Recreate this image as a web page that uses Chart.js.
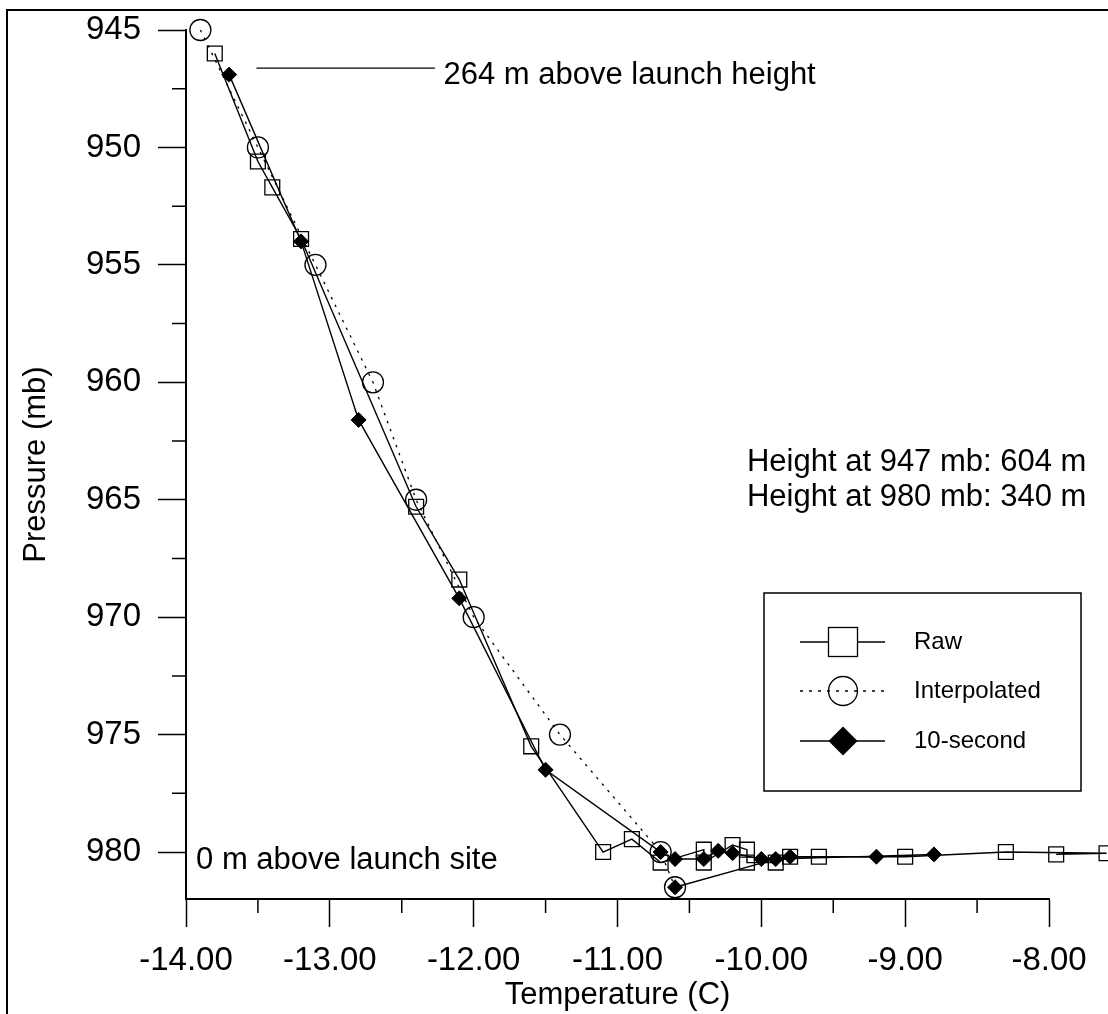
<!DOCTYPE html>
<html><head><meta charset="utf-8">
<style>html,body{margin:0;padding:0;background:#fff;overflow:hidden}#wrap{width:1108px;height:1014px}</style>
<script src="https://cdn.jsdelivr.net/npm/chart.js@4.4.1/dist/chart.umd.min.js"></script>
</head><body><div id="wrap"><canvas id="c" width="1108" height="1014"></canvas></div>
<script>
// ---- data ----
const rawT = [-13.8, -13.5, -13.4, -13.2, -12.4, -12.1, -11.6, -11.1, -10.9, -10.7, -10.4, -10.4, -10.2, -10.1, -10.1, -9.9, -9.8, -9.6, -9.0, -8.3, -7.6, -7.95];
const rawP = [946.0, 950.6, 951.7, 953.9, 965.3, 968.4, 975.5, 980.0, 979.45, 980.45, 979.9, 980.45, 979.7, 979.9, 980.45, 980.45, 980.2, 980.2, 980.2, 980.0, 980.05, 980.1];
const interpT = [-13.9, -13.5, -13.1, -12.7, -12.4, -12.0, -11.4, -10.7, -10.6];
const interpP = [945, 950, 955, 960, 965, 970, 975, 980, 981.5];
const tenT = [-13.7, -13.2, -12.8, -12.1, -11.5, -10.7, -10.6, -10.4, -10.3, -10.2, -10.0, -9.8, -9.2, -8.8, -9.9, -10.6];
const tenP = [946.9, 954.0, 961.6, 969.2, 976.5, 980.0, 980.3, 980.3, 979.95, 980.05, 980.3, 980.2, 980.2, 980.1, 980.3, 981.5];
const seriesNames = ['Raw', 'Interpolated', '10-second'];

const xMajor = [-14, -13, -12, -11, -10, -9, -8];
const xTickLabels = ['-14.00', '-13.00', '-12.00', '-11.00', '-10.00', '-9.00', '-8.00'];
const xMinor = [-13.5, -12.5, -11.5, -10.5, -9.5, -8.5];
const yMajor = [945, 950, 955, 960, 965, 970, 975, 980];
const yTickLabels = ['945', '950', '955', '960', '965', '970', '975', '980'];
const yMinor = [947.5, 952.5, 957.5, 962.5, 967.5, 972.5, 977.5];

const xTitle = 'Temperature (C)';
const yTitle = 'Pressure (mb)';
const notes = [
  {text: '264 m above launch height', x: -12.21, y: 946.95},
  {text: '0 m above launch site', x: -13.93, y: 980.35},
  {text: 'Height at 947 mb: 604 m', x: -10.1, y: 963.4},
  {text: 'Height at 980 mb: 340 m', x: -10.1, y: 964.9}
];
const leaderLine = {x1: -13.51, x2: -12.27, y: 946.62};

// ---- drawing ----
const FONT = "'Liberation Sans', Arial, Helvetica, sans-serif";
const pts = (xs, ys) => xs.map((x, i) => ({x: x, y: ys[i]}));

let savedArea = null;
const decor = {
  id: 'decor',
  beforeDraw(chart) {
    const c = chart.ctx;
    c.save();
    c.fillStyle = '#fff';
    c.fillRect(0, 0, chart.width, chart.height);
    c.strokeStyle = '#000';
    c.lineWidth = 2;
    c.strokeRect(7, 10, chart.width + 20, chart.height + 20);
    c.restore();
  },
  beforeDatasetsDraw(chart) {
    // let markers that run past the last tick (data beyond -8) still be drawn
    savedArea = chart.chartArea;
    chart.chartArea = Object.assign({}, savedArea, {right: chart.width, top: 0});
  },
  afterDatasetsDraw(chart) {
    if (savedArea) chart.chartArea = savedArea;
  },
  afterDraw(chart) {
    const c = chart.ctx, xs = chart.scales.x, ys = chart.scales.y, a = chart.chartArea;
    c.save();
    c.strokeStyle = '#000';
    c.lineWidth = 1.5;
    c.beginPath();
    xMinor.forEach(v => { const p = xs.getPixelForValue(v); c.moveTo(p, a.bottom); c.lineTo(p, a.bottom + 14); });
    yMinor.forEach(v => { const p = ys.getPixelForValue(v); c.moveTo(a.left, p); c.lineTo(a.left - 14, p); });
    c.stroke();
    c.lineWidth = 1.3;
    c.beginPath();
    c.moveTo(xs.getPixelForValue(leaderLine.x1), ys.getPixelForValue(leaderLine.y));
    c.lineTo(xs.getPixelForValue(leaderLine.x2), ys.getPixelForValue(leaderLine.y));
    c.stroke();
    c.fillStyle = '#000';
    c.font = '31px ' + FONT;
    c.textAlign = 'left';
    c.textBaseline = 'middle';
    notes.forEach(n => c.fillText(n.text, xs.getPixelForValue(n.x), ys.getPixelForValue(n.y)));
    // legend
    const L = {x: 764, y: 593, w: 317, h: 198, x1: 800, x2: 885, mx: 843, tx: 914, rows: [642, 691, 741]};
    c.lineWidth = 1.5;
    c.strokeRect(L.x, L.y, L.w, L.h);
    c.font = '24px ' + FONT;
    let y = L.rows[0];
    c.lineWidth = 1.3;
    c.beginPath(); c.moveTo(L.x1, y); c.lineTo(L.x2, y); c.stroke();
    c.fillStyle = '#fff'; c.fillRect(L.mx - 14.5, y - 14.5, 29, 29);
    c.strokeRect(L.mx - 14.5, y - 14.5, 29, 29);
    y = L.rows[1];
    c.setLineDash([3, 6]);
    c.beginPath(); c.moveTo(L.x1, y); c.lineTo(L.x2, y); c.stroke();
    c.setLineDash([]);
    c.beginPath(); c.arc(L.mx, y, 14.5, 0, Math.PI * 2); c.stroke();
    y = L.rows[2];
    c.beginPath(); c.moveTo(L.x1, y); c.lineTo(L.x2, y); c.stroke();
    c.fillStyle = '#000';
    c.beginPath(); c.moveTo(L.mx - 14.5, y); c.lineTo(L.mx, y - 14.5); c.lineTo(L.mx + 14.5, y); c.lineTo(L.mx, y + 14.5); c.closePath(); c.fill();
    seriesNames.forEach((s, i) => c.fillText(s, L.tx, L.rows[i]));
    c.restore();
  }
};

new Chart(document.getElementById('c'), {
  type: 'scatter',
  data: {
    datasets: [
      {
        label: seriesNames[2], data: pts(tenT, tenP), showLine: true, clip: false,
        borderColor: '#000', borderWidth: 1.4, backgroundColor: '#000',
        pointStyle: 'rectRot', pointRadius: 7.5, pointBorderWidth: 1, pointBackgroundColor: '#000', pointBorderColor: '#000'
      },
      {
        label: seriesNames[1], data: pts(interpT, interpP), showLine: true, clip: false,
        borderColor: '#000', borderWidth: 1.3, borderDash: [2.5, 6],
        pointStyle: 'circle', pointRadius: 10.5, pointBorderWidth: 1.3, pointBackgroundColor: 'rgba(0,0,0,0)', pointBorderColor: '#000'
      },
      {
        label: seriesNames[0], data: pts(rawT, rawP), showLine: true, clip: false,
        borderColor: '#000', borderWidth: 1.4,
        pointStyle: 'rect', pointRadius: 10.5, pointBorderWidth: 1.3, pointBackgroundColor: 'rgba(0,0,0,0)', pointBorderColor: '#000'
      }
    ]
  },
  options: {
    responsive: false, animation: false, devicePixelRatio: 1,
    layout: {padding: {left: 0, top: 30, right: 59, bottom: 0}},
    plugins: {legend: {display: false}, tooltip: {enabled: false}},
    elements: {line: {tension: 0}},
    scales: {
      x: {
        type: 'linear', position: 'bottom', min: -14, max: -8,
        afterBuildTicks: s => { s.ticks = xMajor.map(v => ({value: v})); },
        afterFit: s => { s.height = 115; s.paddingLeft = 0; s.paddingRight = 0; },
        ticks: {
          autoSkip: false, maxRotation: 0, padding: 14, color: '#000',
          font: {family: FONT, size: 33},
          callback: v => { const i = xMajor.indexOf(v); return i >= 0 ? xTickLabels[i] : ''; }
        },
        grid: {display: true, drawOnChartArea: false, drawTicks: true, tickLength: 28, tickWidth: 1.5, tickColor: '#000'},
        border: {display: true, color: '#000', width: 2},
        title: {display: true, text: xTitle, color: '#000', font: {family: FONT, size: 31}, padding: {top: 0, bottom: 0}}
      },
      y: {
        type: 'linear', position: 'left', min: 945, max: 982, reverse: true,
        afterBuildTicks: s => { s.ticks = yMajor.map(v => ({value: v})); },
        afterFit: s => { s.width = 186; s.paddingTop = 0; s.paddingBottom = 0; },
        ticks: {
          autoSkip: false, padding: 17, color: '#000',
          font: {family: FONT, size: 33},
          callback: v => { const i = yMajor.indexOf(v); return i >= 0 ? yTickLabels[i] : ''; }
        },
        grid: {display: true, drawOnChartArea: false, drawTicks: true, tickLength: 28, tickWidth: 1.5, tickColor: '#000'},
        border: {display: true, color: '#000', width: 2},
        title: {display: true, text: yTitle, color: '#000', font: {family: FONT, size: 31}, padding: {top: 18, bottom: 0}}
      }
    }
  },
  plugins: [decor]
});
</script>
</body></html>
